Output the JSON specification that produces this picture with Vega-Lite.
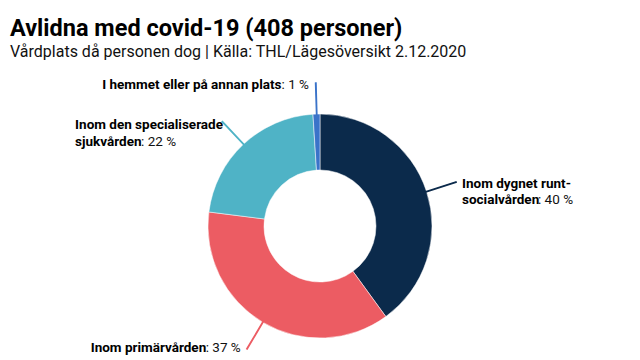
{
  "$schema": "https://vega.github.io/schema/vega-lite/v6.json",
  "width": 640,
  "height": 312,
  "autosize": {"type": "none"},
  "padding": {"top": 70, "left": 0, "right": 0, "bottom": 0},
  "background": "white",
  "config": {"view": {"stroke": null}},
  "title": {
    "text": "Avlidna med covid-19 (408 personer)",
    "subtitle": "Vårdplats då personen dog | Källa: THL/Lägesöversikt 2.12.2020",
    "anchor": "start",
    "frame": "group",
    "dx": 10,
    "offset": 10,
    "font": "Roboto",
    "fontSize": 23.5,
    "fontWeight": "bold",
    "color": "#000000",
    "subtitleFont": "Roboto",
    "subtitleFontSize": 16,
    "subtitleColor": "#111111",
    "subtitlePadding": 4
  },
  "data": {
    "values": [
      {"cat": "Inom dygnet runt-socialvården", "pct": 40, "ord": 1, "name": "Inom dygnet runt-\nsocialvården", "val": ": 40 %"},
      {"cat": "Inom primärvården", "pct": 37, "ord": 2, "name": "Inom primärvården", "val": ": 37 %"},
      {"cat": "Inom den specialiserade sjukvården", "pct": 22, "ord": 3, "name": "Inom den specialiserade\nsjukvården", "val": ": 22 %"},
      {"cat": "I hemmet eller på annan plats", "pct": 1, "ord": 4, "name": "I hemmet eller på annan plats", "val": ": 1 %"}
    ]
  },
  "transform": [
    {"window": [{"op": "sum", "field": "pct", "as": "cum"}], "sort": [{"field": "ord"}], "frame": [null, 0]},
    {"calculate": "datum.cum - datum.pct", "as": "start"},
    {"calculate": "datum.cum - datum.pct / 2", "as": "mid"},
    {"calculate": "datum.mid + 0.06", "as": "mid2"}
  ],
  "layer": [
    {
      "mark": {"type": "arc", "innerRadius": 56, "outerRadius": 112, "stroke": "white", "strokeWidth": 0.5},
      "encoding": {
        "theta": {"field": "start", "type": "quantitative", "stack": null, "scale": {"domain": [0, 100]}},
        "theta2": {"field": "cum"},
        "color": {"field": "cat", "type": "nominal", "legend": null,
          "scale": {"domain": ["Inom dygnet runt-socialvården", "Inom primärvården", "Inom den specialiserade sjukvården", "I hemmet eller på annan plats"],
                    "range": ["#0b2a4b", "#ec5c63", "#4fb3c6", "#3a73c9"]}}
      }
    },
    {
      "mark": {"type": "arc", "innerRadius": 111, "outerRadius": 143, "strokeWidth": 1.4},
      "encoding": {
        "theta": {"field": "mid", "type": "quantitative", "stack": null, "scale": {"domain": [0, 100]}},
        "theta2": {"field": "mid2"},
        "color": {"field": "cat", "type": "nominal", "legend": null},
        "stroke": {"field": "cat", "type": "nominal", "legend": null,
          "scale": {"domain": ["Inom dygnet runt-socialvården", "Inom primärvården", "Inom den specialiserade sjukvården", "I hemmet eller på annan plats"],
                    "range": ["#0b2a4b", "#ec5c63", "#4fb3c6", "#3a73c9"]}}
      }
    },
    {
      "transform": [{"filter": "datum.ord == 1"}],
      "mark": {"type": "text", "radius": 143, "align": "left", "baseline": "alphabetic", "dx": 6, "dy": 6.5, "font": "Roboto", "fontSize": 13.5, "fontWeight": "bold", "lineBreak": "\n", "lineHeight": 16, "color": "#000000"},
      "encoding": {
        "theta": {"field": "mid", "type": "quantitative", "stack": null, "scale": {"domain": [0, 100]}},
        "text": {"field": "name"}
      }
    },
    {
      "transform": [{"filter": "datum.ord == 1"}],
      "mark": {"type": "text", "radius": 143, "align": "left", "baseline": "alphabetic", "dx": 82, "dy": 22.5, "font": "Roboto", "fontSize": 13.5, "color": "#111111"},
      "encoding": {
        "theta": {"field": "mid", "type": "quantitative", "stack": null, "scale": {"domain": [0, 100]}},
        "text": {"field": "val"}
      }
    },
    {
      "transform": [{"filter": "datum.ord == 2"}],
      "mark": {"type": "text", "radius": 143, "align": "right", "baseline": "alphabetic", "dx": -41, "dy": 3, "font": "Roboto", "fontSize": 13.5, "fontWeight": "bold", "color": "#000000"},
      "encoding": {
        "theta": {"field": "mid", "type": "quantitative", "stack": null, "scale": {"domain": [0, 100]}},
        "text": {"field": "name"}
      }
    },
    {
      "transform": [{"filter": "datum.ord == 2"}],
      "mark": {"type": "text", "radius": 143, "align": "right", "baseline": "alphabetic", "dx": -6.5, "dy": 3, "font": "Roboto", "fontSize": 13.5, "color": "#111111"},
      "encoding": {
        "theta": {"field": "mid", "type": "quantitative", "stack": null, "scale": {"domain": [0, 100]}},
        "text": {"field": "val"}
      }
    },
    {
      "transform": [{"filter": "datum.ord == 3"}],
      "mark": {"type": "text", "radius": 143, "align": "left", "baseline": "alphabetic", "dx": -147, "dy": 7.5, "font": "Roboto", "fontSize": 13.5, "fontWeight": "bold", "lineBreak": "\n", "lineHeight": 16.5, "color": "#000000"},
      "encoding": {
        "theta": {"field": "mid", "type": "quantitative", "stack": null, "scale": {"domain": [0, 100]}},
        "text": {"field": "name"}
      }
    },
    {
      "transform": [{"filter": "datum.ord == 3"}],
      "mark": {"type": "text", "radius": 143, "align": "left", "baseline": "alphabetic", "dx": -81, "dy": 24, "font": "Roboto", "fontSize": 13.5, "color": "#111111"},
      "encoding": {
        "theta": {"field": "mid", "type": "quantitative", "stack": null, "scale": {"domain": [0, 100]}},
        "text": {"field": "val"}
      }
    },
    {
      "transform": [{"filter": "datum.ord == 4"}],
      "mark": {"type": "text", "radius": 143, "align": "right", "baseline": "alphabetic", "dx": -34, "dy": 6, "font": "Roboto", "fontSize": 13.5, "fontWeight": "bold", "color": "#000000"},
      "encoding": {
        "theta": {"field": "mid", "type": "quantitative", "stack": null, "scale": {"domain": [0, 100]}},
        "text": {"field": "name"}
      }
    },
    {
      "transform": [{"filter": "datum.ord == 4"}],
      "mark": {"type": "text", "radius": 143, "align": "right", "baseline": "alphabetic", "dx": -6.5, "dy": 6, "font": "Roboto", "fontSize": 13.5, "color": "#111111"},
      "encoding": {
        "theta": {"field": "mid", "type": "quantitative", "stack": null, "scale": {"domain": [0, 100]}},
        "text": {"field": "val"}
      }
    }
  ]
}
